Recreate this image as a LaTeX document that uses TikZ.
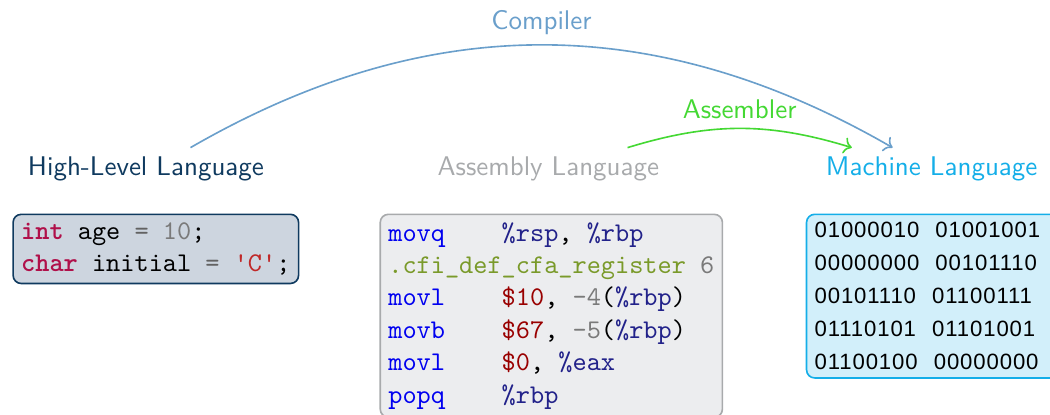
\documentclass[tikz,border=0pt]{standalone}
\usepackage{fontspec}
\usepackage{tikz}
\usetikzlibrary{arrows.meta, positioning, calc}

\newfontfamily\binfont[LetterSpace=4]{Liberation Sans}

\definecolor{hllcolor}{HTML}{0F3A5F}
\definecolor{hllfill}{HTML}{CDD5DF}
\definecolor{asmcolor}{HTML}{A8AAAC}
\definecolor{asmfill}{HTML}{ECEDEF}
\definecolor{machcolor}{HTML}{14AEE8}
\definecolor{machfill}{HTML}{D2EFFA}
\definecolor{compcolor}{HTML}{6A9FCB}
\definecolor{assemcolor}{HTML}{44D833}
\definecolor{kwcolor}{HTML}{B0104A}
\definecolor{numcolor}{HTML}{7A7A7A}
\definecolor{strcolor}{HTML}{C02828}
\definecolor{instrcolor}{HTML}{0000F0}
\definecolor{regcolor}{HTML}{22228A}
\definecolor{dircolor}{HTML}{7A9A2A}
\definecolor{immcolor}{HTML}{990000}

\begin{document}
\begin{tikzpicture}[
      lang/.style={font=\sffamily, anchor=base},
      codebox/.style={rectangle, draw, semithick, rounded corners=3pt, anchor=north west,
        align=left, inner sep=3pt, font=\ttfamily},
      translate/.style={->, bend left=#1}]

      \useasboundingbox (0,0) rectangle (13.67,-5.40);

      % Language names
      \node[lang, text=hllcolor] (hll) at (1.90,-2.29) {High-Level Language};
      \node[lang, text=asmcolor] (asm) at (7.14,-2.29) {Assembly Language};
      \node[lang, text=machcolor] (mach) at (12.13,-2.29) {Machine Language};

      % Translation steps
      \draw[translate=30, compcolor, line width=0.6pt] ([xshift=0.58cm]hll.north) to
        node[midway, above, font=\sffamily] {Compiler} ([xshift=-0.51cm]mach.north);
      \draw[translate=17, assemcolor, semithick] ([xshift=1.03cm]asm.north) to
        node[midway, above, font=\sffamily] {Assembler} ([xshift=-1.04cm]mach.north);

      % Code samples
      \node[codebox, draw=hllcolor, fill=hllfill] (hllcode) at (0.16,-2.78) {%
        \textcolor{kwcolor}{\textbf{int}} age \textcolor{numcolor!80!black}{=} \textcolor{numcolor}{10};\\
        \textcolor{kwcolor}{\textbf{char}} initial \textcolor{numcolor!80!black}{=} \textcolor{strcolor}{\textquotesingle C\textquotesingle};};
      \node[codebox, draw=asmcolor, fill=asmfill] (asmcode) at (4.94,-2.78) {%
        \textcolor{instrcolor}{movq}\ \ \ \ \textcolor{regcolor}{\%rsp}, \textcolor{regcolor}{\%rbp}\\
        \textcolor{dircolor}{.cfi\_def\_cfa\_register} \textcolor{numcolor}{6}\\
        \textcolor{instrcolor}{movl}\ \ \ \ \textcolor{immcolor}{\$10}, \textcolor{numcolor}{-4}(\textcolor{regcolor}{\%rbp})\\
        \textcolor{instrcolor}{movb}\ \ \ \ \textcolor{immcolor}{\$67}, \textcolor{numcolor}{-5}(\textcolor{regcolor}{\%rbp})\\
        \textcolor{instrcolor}{movl}\ \ \ \ \textcolor{immcolor}{\$0}, \textcolor{regcolor}{\%eax}\\
        \textcolor{instrcolor}{popq}\ \ \ \ \textcolor{regcolor}{\%rbp}};
      \node[codebox, draw=machcolor, fill=machfill, text width=4cm,
        font={\binfont\fontsize{8.2}{12.2}\selectfont}] (machcode) at (10.49,-2.78) {%
        01000010\hspace{6pt}01001001\\
        00000000\hspace{6pt}00101110\\
        00101110\hspace{6pt}01100111\\
        01110101\hspace{6pt}01101001\\
        01100100\hspace{6pt}00000000};
    \end{tikzpicture}
\end{document}
